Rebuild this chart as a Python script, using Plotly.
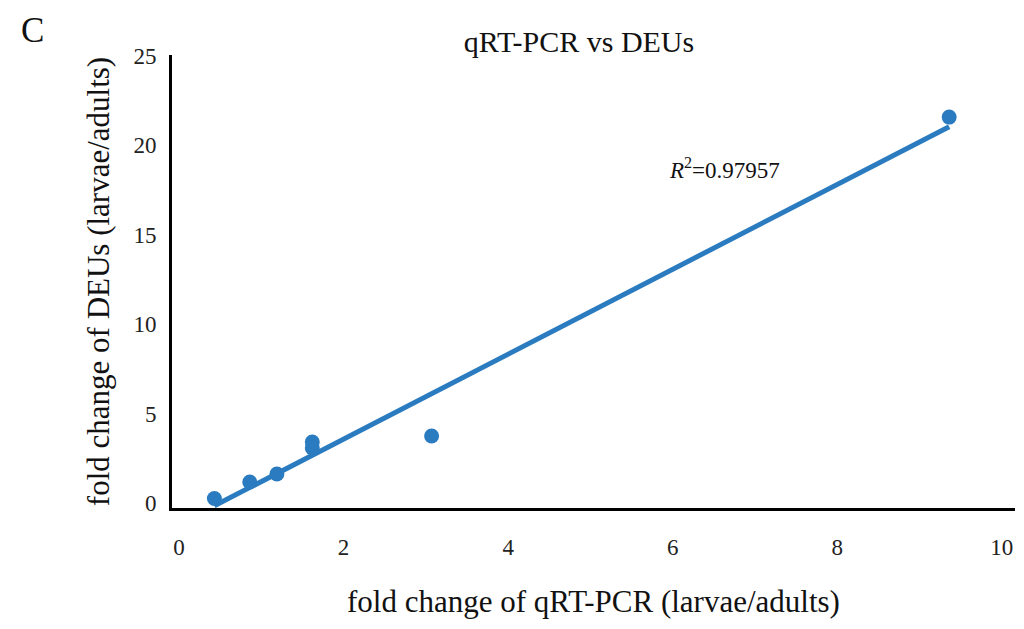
import numpy as np
import plotly.graph_objects as go

qrtpcr = [0.43, 0.86, 1.19, 1.62, 1.62, 3.07, 9.36]
deus = [0.25, 1.17, 1.62, 3.41, 3.07, 3.74, 21.56]
x_ticks = [0, 2, 4, 6, 8, 10]
y_ticks = [0, 5, 10, 15, 20, 25]
r2_text = "0.97957"

blue = "#2B7BC0"
serif = "Liberation Serif"

slope, intercept = np.polyfit(qrtpcr, deus, 1)
fit_x = [min(qrtpcr), max(qrtpcr)]
fit_y = [slope * v + intercept for v in fit_x]

fig = go.Figure()
fig.add_trace(go.Scatter(x=fit_x, y=fit_y, mode="lines",
                         line=dict(color=blue, width=5), showlegend=False))
fig.add_trace(go.Scatter(x=qrtpcr, y=deus, mode="markers",
                         marker=dict(color=blue, size=15), showlegend=False))

fig.update_layout(
    width=1016, height=621,
    margin=dict(l=164, r=9, t=47, b=121),
    paper_bgcolor="white", plot_bgcolor="white",
    font=dict(family=serif, color="#111111"),
    title=dict(text="qRT-PCR vs DEUs", x=0.562, xref="container", xanchor="center",
               y=0.946, yref="container", yanchor="middle",
               font=dict(size=30, family=serif, color="#111111")),
    xaxis=dict(range=[-0.085, 10.16], tickvals=x_ticks, showgrid=False, zeroline=False,
               showline=True, linecolor="black", linewidth=3, ticks="",
               tickfont=dict(size=23, family=serif, color="#222222"),
               ticklabelstandoff=16,
               title=dict(text="fold change of qRT-PCR (larvae/adults)", standoff=32,
                          font=dict(size=31, family=serif, color="#111111"))),
    yaxis=dict(range=[-0.28, 25.03], tickvals=y_ticks, showgrid=False, zeroline=False,
               showline=True, linecolor="black", linewidth=3, ticks="",
               tickfont=dict(size=23, family=serif, color="#222222"),
               ticklabelstandoff=8,
               title=dict(text="fold change of DEUs (larvae/adults)", standoff=15,
                          font=dict(size=31, family=serif, color="#111111"))),
    annotations=[
        dict(text="C", x=-0.166, y=1.055, xref="paper", yref="paper",
             xanchor="center", yanchor="middle", showarrow=False,
             font=dict(size=35, family=serif, color="#111111")),
        dict(text="<i>R</i><sup style='font-size:8px'>2</sup>=" + r2_text, x=5.93, y=18.7,
             xref="x", yref="y", xanchor="left", yanchor="middle", showarrow=False,
             font=dict(size=23, family=serif, color="#111111")),
    ],
)

fig.write_html("out.html")
